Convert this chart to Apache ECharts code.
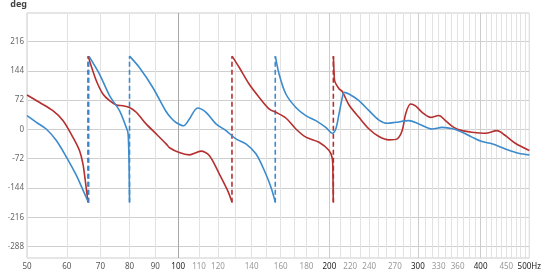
<!DOCTYPE html>
<html>
<head>
<meta charset="utf-8">
<script src="https://cdn.jsdelivr.net/npm/echarts@6/dist/echarts.min.js"></script>
<style>html,body{margin:0;padding:0;background:#fff}#c{width:544px;height:275px}</style>
</head>
<body>
<div id="c"></div>
<script>
const xGridTicks = [50,60,70,80,90,100,110,120,130,140,150,160,170,180,190,200,210,220,230,240,250,260,270,280,290,300,310,320,330,340,350,360,370,380,390,400,410,420,430,440,450,460,470,480,490,500];
const xLabelValues = [50,60,70,80,90,100,110,120,140,160,180,200,220,240,270,300,330,360,400,450,500];
const yTicks = [-288,-216,-144,-72,0,72,144,216];

const redSeg1 = [[50,84.5],[53.0,66],[56.3,46],[59.0,21.5],[61.7,-19],[63.6,-52],[64.6,-84],[65.3,-125],[66.1,-178]];
const redSeg2 = [[66.2,180],[67.1,156],[68.7,119.5],[70.8,87],[73.0,70.5],[75.3,60],[77.6,58],[80.0,54],[82.5,42],[86.3,13.5],[90.4,-11],[94.6,-35.5],[96.1,-45],[100.5,-57],[105.2,-62.5],[111.0,-53.5],[115.3,-64],[120.7,-109],[125.4,-150],[127.9,-178]];
const redSeg3 = [[128.0,180],[132.3,152],[138.5,111],[145.0,78.6],[151.8,50],[156.5,42],[163.8,28],[171.5,1],[179.5,-19],[190.7,-31.6],[199.7,-52],[202.7,-72],[203.3,-115],[203.6,-178]];
const redSeg4 = [[203.7,180],[204.3,140],[205.0,118],[209.0,100],[212.2,93],[218.8,60],[229.0,29.6],[239.8,1],[251.0,-17.6],[262.7,-25.8],[272.9,-23.3],[279.2,-3],[283.6,38],[290.1,62.5],[296.8,58],[305.9,42],[317.9,29.6],[330.2,34],[340.5,21.5],[353.7,5],[367.4,-3],[384.6,-7],[408.8,-9.5],[431.2,-3],[448.0,-15],[469.0,-34],[500,-52]];

const blueSeg1 = [[50,33.6],[52.2,17.4],[54.6,1],[57.2,-27.4],[59.9,-68],[62.7,-113],[65.1,-158],[65.9,-172.6],[66.3,-178]];
const blueSeg2 = [[66.4,180],[69.7,136],[73.0,83],[76.4,46],[78.8,5],[79.4,-7],[79.6,-25],[79.85,-90],[80.0,-178]];
const blueSeg3 = [[80.0,180],[83.7,152],[89.0,103],[94.6,44],[96.8,28],[99.0,17],[102.5,9],[105.2,25],[109.3,52.6],[113.6,42],[118.9,13.5],[124.5,-3],[130.3,-23.3],[136.4,-35.5],[142.8,-60],[148.4,-101],[153.0,-142],[156.0,-178]];
const blueSeg4 = [[156.1,180],[158.8,136],[163.8,87],[171.5,54],[179.5,34],[187.9,21.5],[196.7,5],[202.7,-9.5],[205.9,1],[209.0,38],[212.2,78.6],[213.9,91],[218.8,87],[229.0,70.5],[239.8,46],[251.0,23],[260.7,15],[270.9,17.4],[287.9,21.5],[301.4,13.5],[320.3,1],[335.3,5],[353.7,1],[367.4,-7],[384.6,-19],[402.5,-30],[421.4,-35.5],[448.0,-48],[476.1,-58.5],[500,-62.5]];

const redWraps = [66.15, 127.95, 203.65];
const blueWraps = [66.35, 80.0, 156.05];

const RED = '#b52f2f';
const BLUE = '#3b8bcd';

const chart = echarts.init(document.getElementById('c'), null, {renderer:'canvas'});

function curve(data, color) {
  return {type:'line', data:data, smooth:0.3, showSymbol:false, symbol:'none',
    lineStyle:{color:color, width:1.6}, silent:true, z:3};
}
function wrap(f, color) {
  return {type:'line', data:[[f,-180],[f,180]], showSymbol:false, symbol:'none',
    lineStyle:{color:color, width:1.6, type:[5,3]}, silent:true, z:2};
}

const series = [];
[redSeg1,redSeg2,redSeg3,redSeg4].forEach(s => series.push(curve(s, RED)));
[blueSeg1,blueSeg2,blueSeg3,blueSeg4].forEach(s => series.push(curve(s, BLUE)));
redWraps.forEach(f => series.push(wrap(f, RED)));
blueWraps.forEach(f => series.push(wrap(f, BLUE)));

const xLineColors = xGridTicks.map(f => f === 100 ? '#a8a8a8' : ([200,300,400].includes(f) ? '#cccccc' : '#e2e2e2'));

chart.setOption({
  animation:false,
  grid:{left:27, right:13, top:12, bottom:17, show:true, borderColor:'#cccccc', borderWidth:1},
  xAxis:{
    type:'log', logBase:10, min:50, max:500,
    axisLine:{show:false},
    axisTick:{show:false, customValues:xGridTicks},
    splitLine:{show:true, lineStyle:{color:xLineColors, width:1}},
    axisLabel:{
      customValues:xLabelValues, margin:5, fontSize:8, fontFamily:'Noto Sans',
      formatter:function(v){
        const r = Math.round(v);
        if (r === 500) return '{d|500Hz}';
        if ([100,200,300,400].includes(r)) return '{d|' + r + '}';
        if (r < 100) return '{m|' + r + '}';
        return '{l|' + r + '}';
      },
      rich:{
        d:{color:'#222', fontSize:8, fontFamily:'Noto Sans'},
        m:{color:'#555', fontSize:8, fontFamily:'Noto Sans'},
        l:{color:'#999', fontSize:8, fontFamily:'Noto Sans'}
      }
    }
  },
  yAxis:{
    type:'value', min:-316, max:286,
    name:'deg', nameLocation:'end', nameGap:4,
    nameTextStyle:{color:'#444', fontSize:9, fontWeight:'bold', fontFamily:'Noto Sans', align:'right', padding:[0,0,0,0]},
    axisLine:{show:false},
    axisTick:{show:false, customValues:yTicks},
    splitLine:{show:true, lineStyle:{color:'#cfcfcf', width:1}},
    axisLabel:{customValues:yTicks, color:'#666', fontSize:8, fontFamily:'Noto Sans', margin:3}
  },
  series:series
});
</script>
</body>
</html>
